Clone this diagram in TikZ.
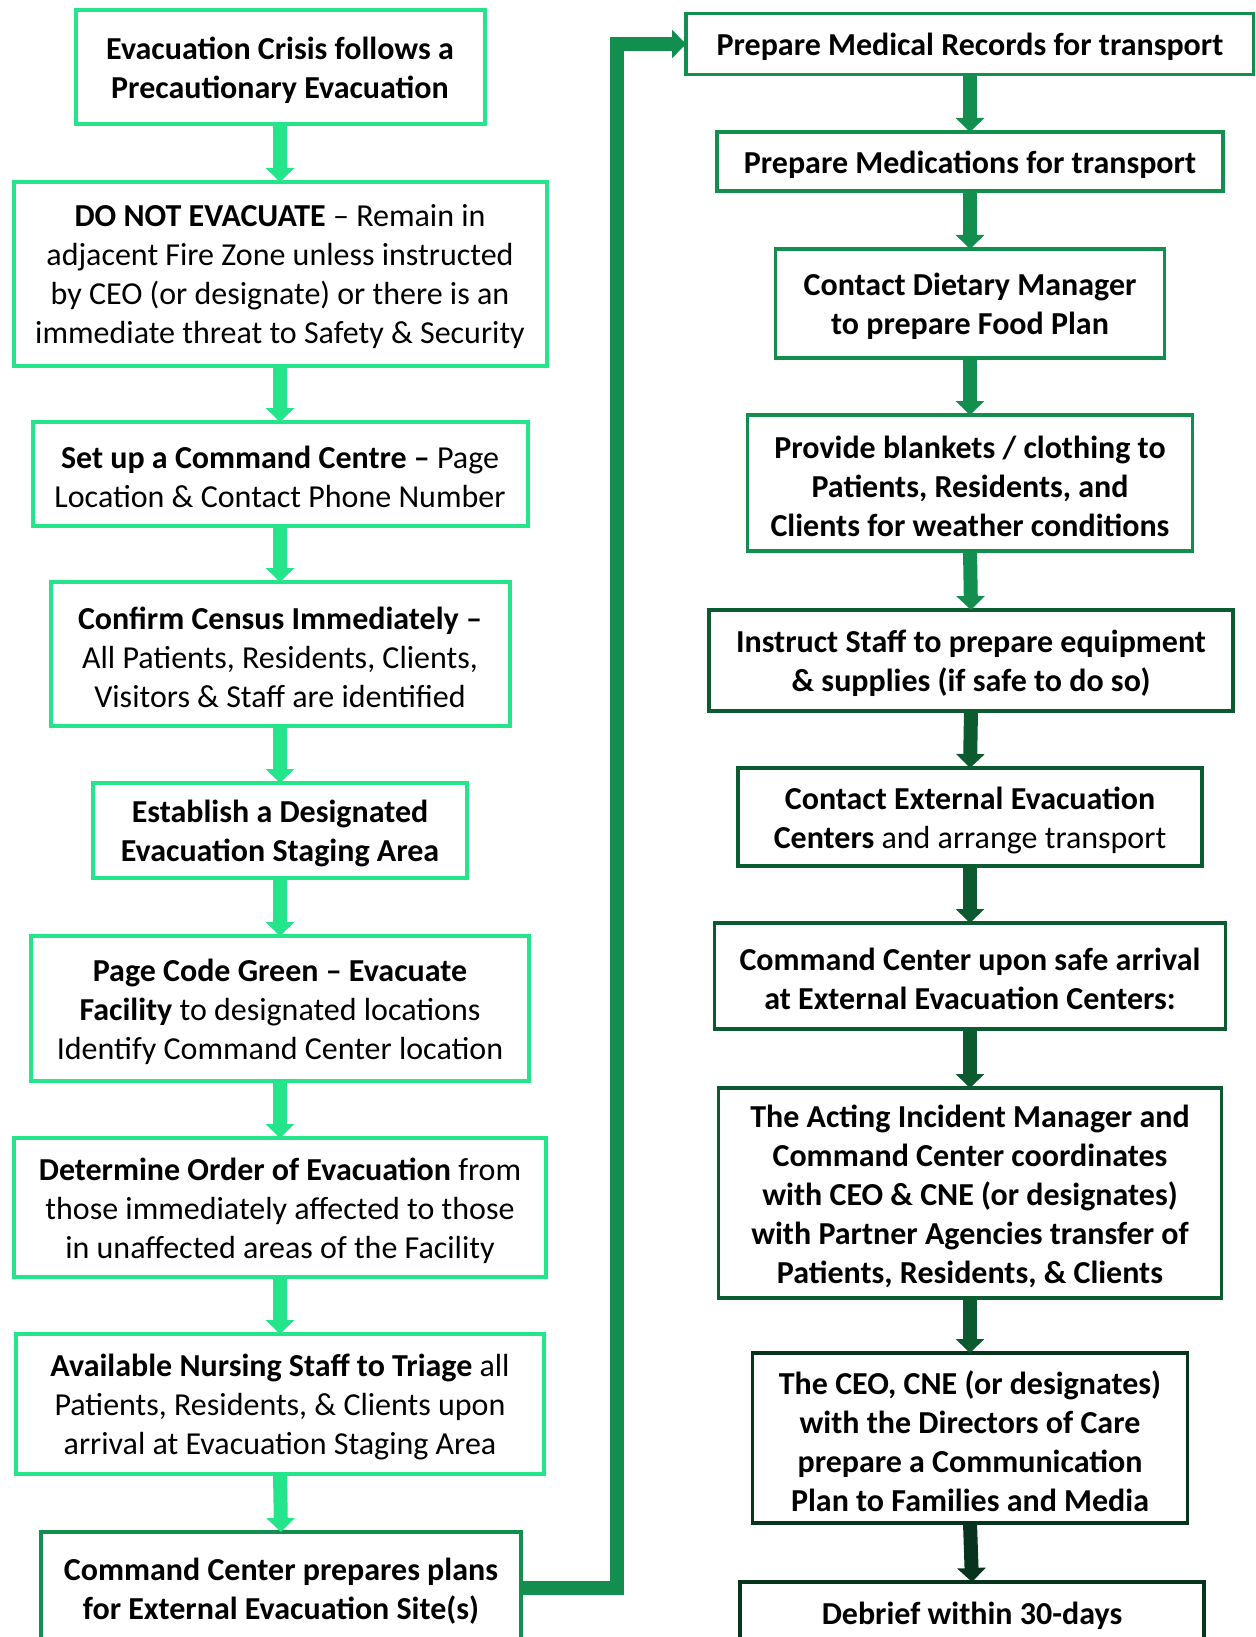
\documentclass[tikz,border=0pt]{standalone}
\usepackage{fontspec}
\setmainfont{Carlito}
\usetikzlibrary{arrows.meta}
\definecolor{bright}{HTML}{24E589}
\definecolor{medium}{HTML}{128F4F}
\definecolor{dark}{HTML}{0C5A30}
\definecolor{darkest}{HTML}{08341E}
\tikzset{
  box/.style={draw=#1, line width=4pt, inner sep=0pt, outer sep=0pt},
  rbox/.style={draw=#1, line width=3.5pt, inner sep=0pt, outer sep=0pt},
  txt/.style={align=center, inner sep=0pt, font=\fontsize{32}{39}\selectfont, text=black, yshift=-3pt},
  flow/.style={draw=#1, line width=14pt, -{Triangle[width=28pt,length=14pt]}},
}
% #1 name, #2 style, #3 x, #4 y, #5 width, #6 height, #7 text
\newcommand\flowbox[7]{%
  \node[#2, minimum width=#5, minimum height=#6] (#1) at (#3,#4) {};
  \node[txt] (#1t) at (#1.center) {#7};}
\begin{document}
\begin{tikzpicture}[x=1pt,y=-1pt]
\path[use as bounding box] (0,0) rectangle (1255,1637);
\clip (0,0) rectangle (1255,1637);
% left column
\flowbox{L1}{box=bright}{280}{67}{409}{114}
  {\textbf{Evacuation Crisis follows a}\\\textbf{Precautionary Evacuation}}
\flowbox{L2}{box=bright}{280}{274}{533}{184}
  {\textbf{DO NOT EVACUATE} -- Remain in\\adjacent Fire Zone unless instructed\\by CEO (or designate) or there is an\\immediate threat to Safety \& Security}
\flowbox{L3}{box=bright}{280}{474}{495}{104}
  {\textbf{Set up a Command Centre --} Page\\Location \& Contact Phone Number}
\flowbox{L4}{box=bright}{280}{654}{459}{144}
  {\textbf{Confirm Census Immediately --}\\All Patients, Residents, Clients,\\Visitors \& Staff are identified}
\flowbox{L5}{box=bright}{280}{830.5}{374}{95}
  {\textbf{Establish a Designated}\\\textbf{Evacuation Staging Area}}
\flowbox{L6}{box=bright}{280}{1008.5}{498}{145}
  {\textbf{Page Code Green -- Evacuate}\\\textbf{Facility} to designated locations\\Identify Command Center location}
\flowbox{L7}{box=bright}{280}{1207.5}{532}{139}
  {\textbf{Determine Order of Evacuation} from\\those immediately affected to those\\in unaffected areas of the Facility}
\flowbox{L8}{box=bright}{280}{1404}{528}{140}
  {\textbf{Available Nursing Staff to Triage} all\\Patients, Residents, \& Clients upon\\arrival at Evacuation Staging Area}
\flowbox{L9}{box=medium}{281}{1588}{480}{112}
  {\textbf{Command Center prepares plans}\\\textbf{for External Evacuation Site(s)}}
% right column
\flowbox{R1}{rbox=medium}{970}{44}{568}{61}
  {\textbf{Prepare Medical Records for transport}}
\flowbox{R2}{rbox=medium}{970}{161.5}{506}{59}
  {\textbf{Prepare Medications for transport}}
\flowbox{R3}{rbox=medium}{970}{303.5}{389}{109}
  {\textbf{Contact Dietary Manager}\\\textbf{to prepare Food Plan}}
\flowbox{R4}{rbox=medium}{970}{483}{445}{136}
  {\textbf{Provide blankets / clothing to}\\\textbf{Patients, Residents, and}\\\textbf{Clients for weather conditions}}
\flowbox{R5}{rbox=dark}{971}{660.5}{524}{101}
  {\textbf{Instruct Staff to prepare equipment}\\\textbf{\& supplies (if safe to do so)}}
\flowbox{R6}{rbox=dark}{970}{817}{464}{98}
  {\textbf{Contact External Evacuation}\\\textbf{Centers} and arrange transport}
\flowbox{R7}{rbox=dark}{970}{976}{511}{106}
  {\textbf{Command Center upon safe arrival}\\\textbf{at External Evacuation Centers:}}
\flowbox{R8}{rbox=dark}{970}{1193}{503}{210}
  {\textbf{The Acting Incident Manager and}\\\textbf{Command Center coordinates}\\\textbf{with CEO \& CNE (or designates)}\\\textbf{with Partner Agencies transfer of}\\\textbf{Patients, Residents, \& Clients}}
\flowbox{R9}{rbox=darkest}{970}{1438}{435}{170}
  {\textbf{The CEO, CNE (or designates)}\\\textbf{with the Directors of Care}\\\textbf{prepare a Communication}\\\textbf{Plan to Families and Media}}
\flowbox{R10}{rbox=darkest}{972}{1613}{464}{62}
  {\textbf{Debrief within 30-days}}
% left arrows
\draw[flow=bright] (L1.south) -- (L2.north);
\draw[flow=bright] (L2.south) -- (L3.north);
\draw[flow=bright] (L3.south) -- (L4.north);
\draw[flow=bright] (L4.south) -- (L5.north);
\draw[flow=bright] (L5.south) -- (L6.north);
\draw[flow=bright] (L6.south) -- (L7.north);
\draw[flow=bright] (L7.south) -- (L8.north);
\draw[flow=bright] (L8.south) -- (L9.north);
% connector
\coordinate (cx) at (617,0);
\draw[flow=medium] (L9.east) -| (cx |- R1.west) -- (R1.west);
% right arrows
\draw[flow=medium] (R1.south) -- (R2.north);
\draw[flow=medium] (R2.south) -- (R3.north);
\draw[flow=medium] (R3.south) -- (R4.north);
\draw[flow=medium] (R4.south) -- (R5.north);
\draw[flow=dark] (R5.south) -- (R6.north);
\draw[flow=dark] (R6.south) -- (R7.north);
\draw[flow=dark] (R7.south) -- (R8.north);
\draw[flow=dark] (R8.south) -- (R9.north);
\draw[flow=darkest] (R9.south) -- (R10.north);
\end{tikzpicture}
\end{document}
